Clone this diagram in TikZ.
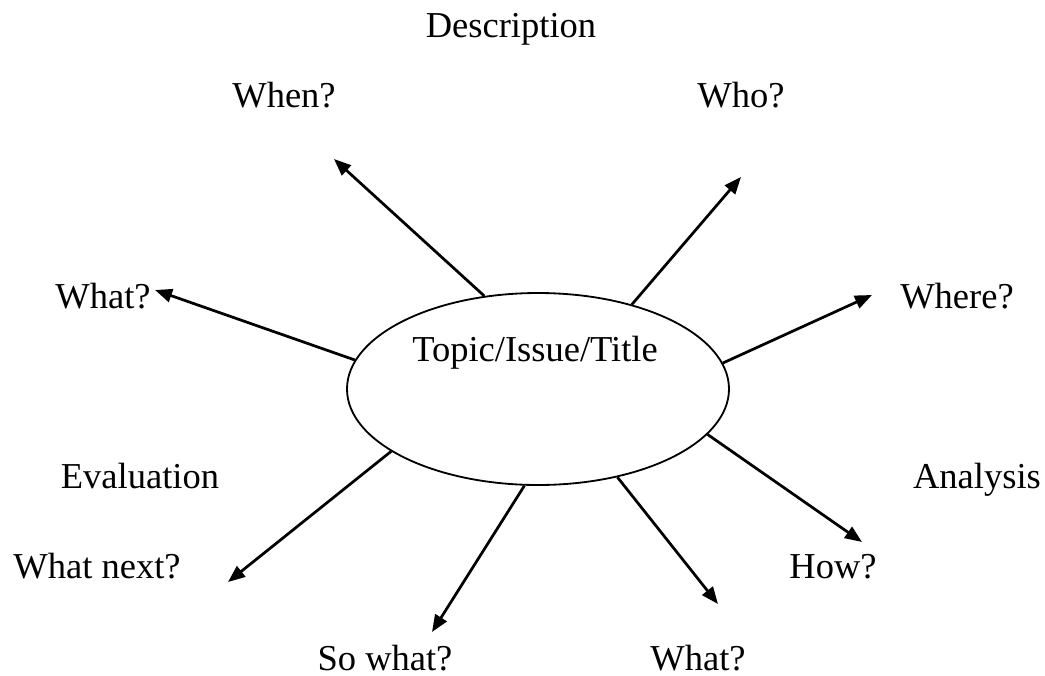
\documentclass[tikz,border=0pt]{standalone}
\usepackage{fontspec}
\setmainfont{Liberation Serif}
\usetikzlibrary{arrows.meta,shapes.geometric}
\tikzset{>={Triangle[length=5.6pt,width=4.4pt]}}

\begin{document}
\begin{tikzpicture}[x=0.3288pt,y=-0.3288pt,every node/.style={font=\fontsize{12}{14}\selectfont},lbl/.style={anchor=base,inner sep=0pt},spoke/.style={->,line width=0.9pt}]
\useasboundingbox (0,0) rectangle (1045,675);
\node[ellipse,draw,line width=0.6pt,minimum width=382*0.3288pt,minimum height=192*0.3288pt,inner sep=0pt] (topic) at (538,389) {};
\node[lbl] (title) at (535,361) {Topic/Issue/Title};
\node[lbl] (desc) at (511,37) {Description};
\node[lbl] (when) at (284,107) {When?};
\node[lbl] (who) at (741,107) {Who?};
\node[lbl] (whatl) at (103,308) {What?};
\node[lbl] (where) at (957,308) {Where?};
\node[lbl] (eval) at (140,488) {Evaluation};
\node[lbl] (anal) at (977,488) {Analysis};
\node[lbl] (next) at (97,578) {What next?};
\node[lbl] (how) at (833,578) {How?};
\node[lbl] (sowhat) at (385,670) {So what?};
\node[lbl] (whatb) at (698,670) {What?};
\coordinate (whenend) at (334,159);
\coordinate (whoend) at (741,177);
\coordinate (whatlend) at (155,290);
\coordinate (whereend) at (872,295);
\coordinate (howend) at (862,542);
\coordinate (whatbend) at (718,604);
\coordinate (sowhatend) at (432,632);
\coordinate (nextend) at (228,582);
\draw[spoke] (topic.120) -- (whenend);
\draw[spoke] (topic.42) -- (whoend);
\draw[spoke] (topic.171) -- (whatlend);
\draw[spoke] (topic.8) -- (whereend);
\draw[spoke] (topic.-15) -- (howend);
\draw[spoke] (topic.-48) -- (whatbend);
\draw[spoke] (topic.-98) -- (sowhatend);
\draw[spoke] (topic.203) -- (nextend);
\end{tikzpicture}
\end{document}
